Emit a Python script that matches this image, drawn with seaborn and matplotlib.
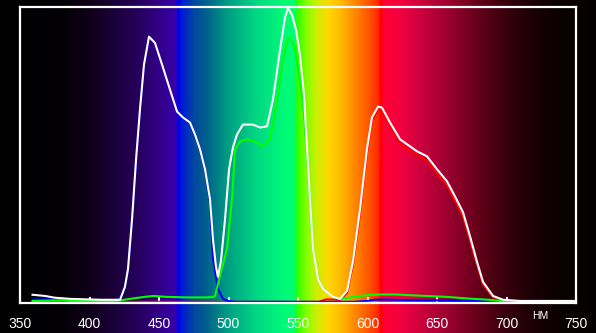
import numpy as np
import pandas as pd
import matplotlib
matplotlib.use("Agg")
import matplotlib.pyplot as plt
import seaborn as sns
from matplotlib.colors import LinearSegmentedColormap, Normalize

# ---- data (wavelength nm, relative intensity %) ----
white_nm = [359, 368, 375, 386, 408, 422, 425.5, 427.7, 430.6, 433.5, 436.3, 439.2, 442.8,
            447.1, 452.2, 457.9, 463.0, 467.3, 472.3, 475.9, 479.5, 483.1, 486.7, 488.8,
            491.0, 492.4, 494.6, 497.5, 500.4, 503.2, 506.1, 510.4, 517.6, 522.7, 527.7,
            532.0, 537.1, 540.6, 542.8, 545.7, 548.6, 551.4, 554.3, 556.5, 558.6, 560.8,
            564.4, 568.0, 575.2, 580.2, 585.3, 589.6, 594.6, 599.6, 603.2, 607.6, 610.4,
            616.2, 623.4, 635.6, 642.8, 650.0, 657.2, 662.9, 668.7, 673.7, 678.8, 683.1,
            690.3, 697.5, 709.7, 750]
white_val = [2.4, 2.0, 1.4, 1.0, 0.7, 0.7, 5.1, 11.2, 28.1, 48.5, 65.4, 80.7, 90.2,
             88.1, 80.7, 72.2, 64.7, 62.7, 61.0, 56.9, 51.9, 45.1, 34.9, 21.4,
             11.9, 8.5, 13.9, 28.1, 45.1, 52.5, 56.9, 60.3, 60.3, 59.3, 59.7,
             68.8, 85.8, 96.6, 100.0, 97.6, 92.5, 84.1, 70.5, 51.9, 34.9, 18.0,
             7.8, 4.4, 1.7, 1.0, 3.7, 13.9, 31.5, 51.9, 62.7, 66.4, 66.1,
             61.0, 55.3, 51.2, 49.5, 45.1, 41.0, 35.9, 30.5, 22.4, 13.6, 6.8,
             2.0, 0.7, 0.3, 0.3]

green_nm = [359, 380, 385, 420, 425, 432, 440, 446, 455, 470, 485, 489, 490.3, 493.9,
            498.9, 502.5, 504.7, 508.3, 513.3, 520.5, 524.8, 529.9, 534.9, 539.2, 542.8,
            545.7, 547.8, 551.4, 554.3, 556.5, 558.6, 560.8, 564.4, 568.0, 575.2, 580.2,
            587.4, 594.6, 603.2, 609.0, 619.8, 637.1, 656.5, 673.0, 687.4, 695, 710]
green_val = [0.3, 0.5, 0.3, 0.3, 0.7, 1.2, 1.7, 2.0, 1.7, 1.5, 1.5, 1.7, 2.0, 8.8,
             18.0, 34.9, 51.9, 54.6, 55.3, 54.2, 52.9, 55.3, 68.8, 82.4, 89.8,
             88.5, 85.8, 75.6, 63.7, 49.5, 34.0, 18.0, 8.0, 4.4, 1.7, 1.0,
             1.4, 2.0, 2.4, 2.5, 2.5, 2.1, 1.7, 1.1, 0.7, 0.3, 0.0]

blue_nm = [359, 370, 380, 385, 395, 420, 425.5, 427.7, 430.6, 433.5, 436.3, 439.2, 442.8,
           447.1, 452.2, 457.9, 463.0, 467.3, 472.3, 475.9, 479.5, 483.1, 486.7, 488.8,
           492.4, 496.0, 499.6, 505, 590, 600, 605, 612, 630, 650, 680, 700, 710]
blue_val = [0.8, 0.9, 0.6, 0.2, 0.0, 0.0, 5.0, 11.0, 28.0, 48.3, 65.2, 80.5, 90.0,
            87.9, 80.5, 72.0, 64.5, 62.5, 60.8, 56.7, 51.7, 44.9, 34.0, 14.6,
            4.4, 1.0, 0.3, 0.0, 0.0, 0.3, 0.7, 0.8, 0.6, 0.5, 0.3, 0.2, 0.0]

red_nm = [359, 362, 368, 372, 565, 570, 575.2, 580.2, 585.3, 589.6, 594.6, 599.6, 603.2,
          607.6, 610.4, 616.2, 623.4, 635.6, 642.8, 650.0, 657.2, 662.9, 668.7, 673.7,
          678.8, 683.1, 690.3, 697.5, 705]
red_val = [0.0, 0.2, 0.2, 0.0, 0.0, 0.8, 0.8, 0.6, 3.0, 12.8, 30.0, 50.5, 61.5,
           65.5, 65.2, 59.8, 53.8, 49.8, 48.0, 43.7, 39.6, 34.5, 29.0, 21.0,
           12.5, 6.0, 1.5, 0.5, 0.0]

tick_values = [350, 400, 450, 500, 550, 600, 650, 700, 750]
unit_label = "HM"

# ---- figure ----
W, H, DPI = 596, 333, 100
fig = plt.figure(figsize=(W / DPI, H / DPI), dpi=DPI)

ax_left_px, ax_right_px = 20, 576
nm_per_px = 400 / (ax_right_px - ax_left_px)
fig_nm0 = 350 - ax_left_px * nm_per_px
fig_nm1 = 750 + (W - ax_right_px) * nm_per_px

spec = [
    (335, (0, 0, 0)), (380, (3, 0, 5)), (400, (15, 0, 25)), (430, (35, 0, 80)),
    (450, (50, 0, 135)), (462, (55, 0, 170)), (463.5, (0, 0, 235)), (467, (0, 30, 210)),
    (475, (0, 70, 160)), (485, (0, 100, 140)), (500, (0, 160, 130)), (520, (0, 215, 130)),
    (540, (0, 250, 120)), (548, (0, 255, 110)), (549, (40, 255, 0)), (556, (130, 255, 0)),
    (563, (200, 240, 0)), (572, (255, 215, 0)), (580, (255, 190, 0)), (590, (255, 140, 0)),
    (600, (255, 90, 0)), (608, (255, 40, 0)), (609.5, (255, 0, 0)), (612, (255, 0, 50)),
    (625, (240, 0, 65)), (640, (200, 0, 60)), (660, (150, 0, 45)), (680, (100, 0, 25)),
    (700, (55, 0, 12)), (720, (25, 0, 5)), (740, (10, 0, 2)), (765, (5, 0, 0)),
]
lo, hi = spec[0][0], spec[-1][0]
cmap = LinearSegmentedColormap.from_list(
    "spec", [((w - lo) / (hi - lo), tuple(c / 255 for c in col)) for w, col in spec], N=1024)

ax_bg = fig.add_axes([0, 0, 1, 1], zorder=0)
grad = np.linspace(fig_nm0, fig_nm1, 1400)[None, :]
ax_bg.imshow(grad, aspect="auto", cmap=cmap, norm=Normalize(lo, hi),
             extent=[0, 1, 0, 1], interpolation="bilinear")
ax_bg.set_axis_off()

ax = fig.add_axes([ax_left_px / W, 30 / H, (ax_right_px - ax_left_px) / W, 296 / H], zorder=1)
ax.set_facecolor("none")

lw = 1.5
sns.lineplot(x=red_nm, y=red_val, ax=ax, color="#ff0000", lw=lw, estimator=None, sort=False)
sns.lineplot(x=blue_nm, y=blue_val, ax=ax, color="#0000ff", lw=lw, estimator=None, sort=False)
sns.lineplot(x=green_nm, y=green_val, ax=ax, color="#00ff00", lw=lw, estimator=None, sort=False)
sns.lineplot(x=white_nm, y=white_val, ax=ax, color="#ffffff", lw=lw, estimator=None, sort=False)

ax.set_xlim(350, 750)
ax.set_ylim(-0.4, 100.3)
ax.set_xticks(tick_values)
ax.set_xticklabels([str(t) for t in tick_values], color="white",
                   fontsize=10, family=["Liberation Sans", "DejaVu Sans"])
ax.set_yticks([])
ax.tick_params(axis="x", direction="in", length=4, width=1.5, color="white", pad=10)
ax.set_xlabel("")
ax.set_ylabel("")
for s in ax.spines.values():
    s.set_color("white")
    s.set_linewidth(1.6)

fig.text(540 / W, 1 - 316 / H, unit_label, color="white", fontsize=7.5,
         ha="center", va="center", family=["Liberation Sans", "DejaVu Sans"])

fig.savefig("out.png", dpi=DPI)
